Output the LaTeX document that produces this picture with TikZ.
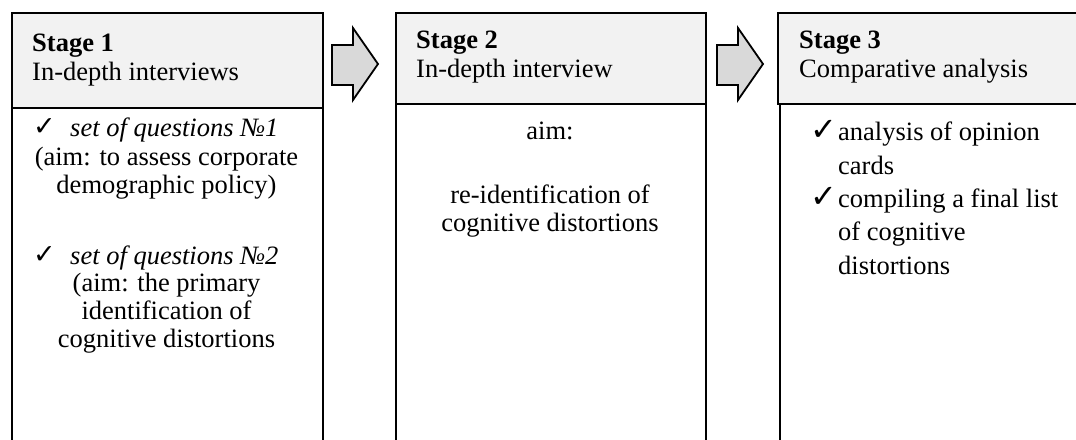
\documentclass[tikz,border=0pt]{standalone}
\usepackage{fontspec}
\setmainfont{Liberation Serif}
\newfontfamily\symfont{DejaVu Sans}
\newfontfamily\symfontb{DejaVu Sans Bold}
\definecolor{hdrgray}{RGB}{242,242,242}
\definecolor{arrowgray}{RGB}{217,217,217}
\begin{document}
\begin{tikzpicture}[x=1pt,y=-1pt,
  hdr/.style={draw=black, line width=2pt, fill=hdrgray, inner sep=0pt, anchor=north west},
  bodybox/.style={draw=black, line width=2pt, fill=white, inner sep=0pt, anchor=north west},
  txt/.style={inner sep=0pt, anchor=base, font=\fontsize{26.5}{29}\selectfont},
  txtl/.style={txt, anchor=base west},
  tick/.style={inner sep=0pt, anchor=base west, font=\symfont\fontsize{32}{36}\selectfont},
  tickb/.style={inner sep=0pt, anchor=base west, font=\symfontb\fontsize{27}{30}\selectfont},
  blockarrow/.style={draw=black, line width=1.8pt, fill=arrowgray, line join=miter}]
\useasboundingbox (0,0) rectangle (1076,439);
\clip (0,0) rectangle (1076,439);
% bodies
\node[bodybox, minimum width=311pt, minimum height=360pt] (b1) at (11,107) {};
\node[bodybox, minimum width=310pt, minimum height=360pt] (b2) at (395,103) {};
\node[bodybox, minimum width=320pt, minimum height=360pt] (b3) at (779,103) {};
% headers
\node[hdr, minimum width=311pt, minimum height=95pt] (h1) at (11,12) {};
\node[hdr, minimum width=310pt, minimum height=91pt] (h2) at (395,12) {};
\node[hdr, minimum width=320pt, minimum height=91pt] (h3) at (777,12) {};
% block arrows
\draw[blockarrow] (332,45) -- (353,45) -- (353,28) -- (378,64) -- (353,100) -- (353,85) -- (332,85) -- cycle;
\draw[blockarrow] (717,45) -- (738,45) -- (738,28) -- (763,64) -- (738,100) -- (738,85) -- (717,85) -- cycle;
% header texts
\node[txtl] (h1a) at (32,51) {\bfseries Stage 1};
\node[txtl] (h1b) at (32,80) {In-depth interviews};
\node[txtl] (h2a) at (416,48) {\bfseries Stage 2};
\node[txtl] (h2b) at (416,77) {In-depth interview};
\node[txtl] (h3a) at (799,48) {\bfseries Stage 3};
\node[txtl] (h3b) at (799,77) {Comparative analysis};
% stage 1 body
\node[tickb] (c11) at (33,135) {✓};
\node[txtl] (q1) at (70,136) {\itshape set of questions №1};
\node[txt] (a1) at (166.5,165) {(aim: to assess corporate};
\node[txt] (a2) at (166.5,193) {demographic policy)};
\node[tickb] (c12) at (33,263) {✓};
\node[txtl] (q2) at (70,264) {\itshape set of questions №2};
\node[txt] (p1) at (166.5,291) {(aim: the primary};
\node[txt] (p2) at (166.5,319) {identification of};
\node[txt] (p3) at (166.5,347) {cognitive distortions};
% stage 2 body
\node[txt] (m1) at (550,139) {aim:};
\node[txt] (m2) at (550,203) {re-identification of};
\node[txt] (m3) at (550,231) {cognitive distortions};
% stage 3 body
\node[tick] (c31) at (810,140) {✓};
\node[txtl] (r1) at (838,140) {analysis of opinion};
\node[txtl] (r2) at (838,174) {cards};
\node[tick] (c32) at (810,207) {✓};
\node[txtl] (r3) at (838,207) {compiling a final list};
\node[txtl] (r4) at (838,240) {of cognitive};
\node[txtl] (r5) at (838,274) {distortions};
\end{tikzpicture}
\end{document}
